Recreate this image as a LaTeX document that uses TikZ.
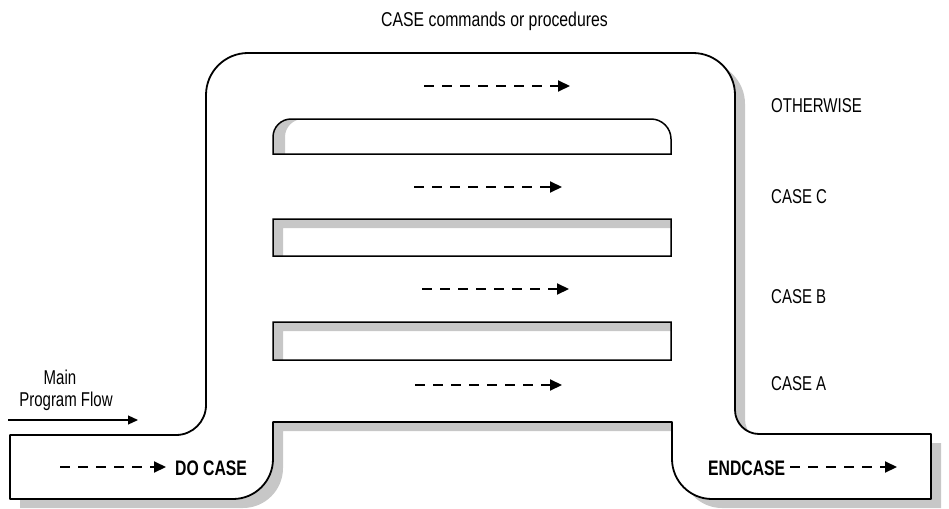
\documentclass[tikz,border=0pt]{standalone}
\usepackage{fontspec}
\setmainfont[FakeStretch=0.75]{Liberation Sans}
\newfontfamily\titlefont[FakeStretch=0.79]{Liberation Sans}
\usetikzlibrary{arrows.meta}
\newcommand\pipeoutline{
  (10,435) -- (176,435) .. controls (192.6,435) and (206,421.6) .. (206,405)
  -- (206,95) .. controls (206,71.8) and (224.8,53) .. (248,53)
  -- (693,53) .. controls (716.2,53) and (735,71.8) .. (735,95)
  -- (735,410) .. controls (735,423.2) and (745.8,434) .. (759,434)
  -- (931,434) -- (931,499) -- (712,499) .. controls (689.9,499) and (672,481.1) .. (672,459)
  -- (672,422) -- (273,422) -- (273,459) .. controls (273,481.1) and (255.1,499) .. (233,499)
  -- (10,499) -- cycle
}
\newcommand\topbaroutline{
  (273,154) -- (273,137) .. controls (273,127.1) and (281.1,119) .. (291,119)
  -- (651,119) .. controls (662,119) and (671,128) .. (671,139)
  -- (671,154) -- cycle
}
\newcommand\topbarshadowhole{
  (285,154) -- (285,137) .. controls (285,127.1) and (293.1,119) .. (303,119)
  -- (663,119) .. controls (674,119) and (683,128) .. (683,139)
  -- (683,154) -- cycle
}
\newcommand\lowbarsoutline{
  (273,219) rectangle (671,256)
  (273,322) rectangle (671,360)
}
\tikzset{
  shadowfill/.style={fill=black!22},
  wall/.style={draw=black, line width=1.8pt, line join=round},
  barwall/.style={draw=black, line width=1.5pt},
  flowarrow/.style={line width=2pt, dash pattern=on 10pt off 8pt, -{Triangle[length=12pt,width=11pt]}},
  mainarrow/.style={line width=1.2pt, -{Triangle[length=10pt,width=9pt]}},
  lbl/.style={font=\fontsize{20}{24}\selectfont, inner sep=0pt, anchor=base west},
  boldlbl/.style={font=\fontsize{21}{24}\selectfont\bfseries, inner sep=0pt, anchor=base west}
}
\begin{document}
\begin{tikzpicture}[x=1pt, y=-1pt]
\useasboundingbox (0,0) rectangle (949,508);
% shadow
\begin{scope}[even odd rule]
  \clip (0,0) rectangle (949,508);
  \fill[shadowfill] [shift={(10,9)}] \pipeoutline \lowbarsoutline
    [shift={(-10,-9)}] \topbarshadowhole;
\end{scope}
% pipe body
\fill[white, even odd rule] \pipeoutline \topbaroutline \lowbarsoutline;
% outlines
\path[wall] \pipeoutline;
\path[barwall] \topbaroutline \lowbarsoutline;
% flow arrows
\coordinate (o1) at (424,86);  \coordinate (o2) at (570,86);
\coordinate (c1) at (414,187); \coordinate (c2) at (562,187);
\coordinate (b1) at (422,289); \coordinate (b2) at (569,289);
\coordinate (a1) at (415,385); \coordinate (a2) at (562,385);
\coordinate (d1) at (60,467);  \coordinate (d2) at (166,467);
\coordinate (e1) at (790,467); \coordinate (e2) at (897,467);
\coordinate (m1) at (8,420);   \coordinate (m2) at (138,420);
\draw[flowarrow] (o1) -- (o2);
\draw[flowarrow] (c1) -- (c2);
\draw[flowarrow] (b1) -- (b2);
\draw[flowarrow] (a1) -- (a2);
\draw[flowarrow] (d1) -- (d2);
\draw[flowarrow] (e1) -- (e2);
\draw[mainarrow] (m1) -- (m2);
% labels
\node[inner sep=0pt, anchor=base, font=\titlefont\fontsize{20}{24}\selectfont] (title) at (494.5,27) {CASE commands or procedures};
\node[lbl] (other) at (771,113) {OTHERWISE};
\node[lbl] (casec) at (771,203) {CASE C};
\node[lbl] (caseb) at (771,303) {CASE B};
\node[lbl] (casea) at (771,390) {CASE A};
\node[lbl, anchor=base] (main) at (60,384) {Main};
\node[lbl, anchor=base] (prog) at (66,406) {Program Flow};
\node[boldlbl] (docase) at (175,475) {DO CASE};
\node[boldlbl] (endcase) at (708,475) {ENDCASE};
\end{tikzpicture}
\end{document}
